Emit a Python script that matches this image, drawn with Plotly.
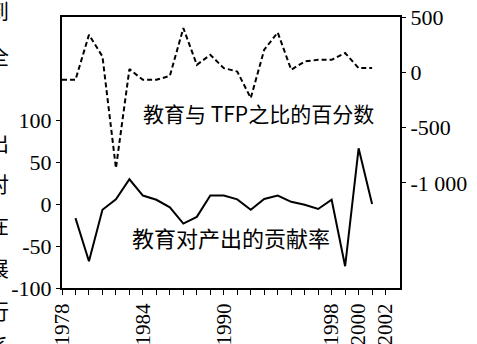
import plotly.graph_objects as go

years_solid = list(range(1979, 2002))
contrib = [-16.5, -68, -6.5, 6, 30, 10.5, 5.5, -3.5, -23, -15, 10.5, 10.5, 6, -6.5, 6.5,
           10.5, 3, -0.5, -5.5, 5.5, -74, 67, 0.5]

years_dash = list(range(1978, 2002))
ratio = [-68, -68, 339, 143, -867, 29, -68, -68, -32, 400, 68, 158, 38, 7, -233, 204,
         360, 23, 98, 113, 113, 174, 38, 38]

x_tickvals = list(range(1978, 2003))
x_labels = {1978: "1978", 1984: "1984", 1990: "1990", 1998: "1998", 2000: "2000", 2002: "2002"}
x_ticktext = [x_labels.get(y, "") for y in x_tickvals]

left_tickvals = [-100, -50, 0, 50, 100]
left_ticktext = ["-100", "-50", "0", "50", "100"]
right_tickvals = [500, 0, -500, -1000]
right_ticktext = ["500", "0", "-500", "-1 000"]

label_solid = "教育对产出的贡献率"
label_dash = "教育与 TFP之比的百分数"
margin_chars = ["到", "全", "出", "对", "在", "展", "行", "系"]
margin_char_y = [10, 55, 142, 183, 224, 267, 310, 345]

W, H = 477, 344
ml, mr, mt, mb = 61.5, 77, 17, 56
pw, ph = W - ml - mr, H - mt - mb

serif = "Liberation Serif, Times New Roman, serif"
cjk = "Noto Sans CJK SC, sans-serif"

fig = go.Figure()
fig.add_trace(go.Scatter(x=years_solid, y=contrib, mode="lines",
                         line=dict(color="black", width=2), yaxis="y", showlegend=False))
fig.add_trace(go.Scatter(x=years_dash, y=ratio, mode="lines",
                         line=dict(color="black", width=2, dash="5px,3px"), yaxis="y2",
                         showlegend=False))

annotations = [
    dict(text=label_dash, x=0.580, y=0.646, xref="paper", yref="paper", showarrow=False,
         xanchor="center", yanchor="middle",
         font=dict(family=cjk, size=21, color="black")),
    dict(text=label_solid, x=0.501, y=0.188, xref="paper", yref="paper", showarrow=False,
         xanchor="center", yanchor="middle",
         font=dict(family=cjk, size=22, color="black")),
]
for ch, py in zip(margin_chars, margin_char_y):
    annotations.append(dict(text=ch, x=(10.5 - ml) / pw, y=(H - mb - py) / ph,
                            xref="paper", yref="paper", xanchor="right", yanchor="middle",
                            showarrow=False, font=dict(family=cjk, size=21, color="black")))

fig.update_layout(
    template="none",
    width=W, height=H,
    margin=dict(l=ml, r=mr, t=mt, b=mb, pad=0, autoexpand=False),
    paper_bgcolor="white", plot_bgcolor="white",
    xaxis=dict(range=[1978, 2003.07], tickvals=x_tickvals, ticktext=x_ticktext,
               tickangle=-90, ticks="outside", ticklen=5, tickwidth=1.3, tickcolor="black",
               showline=True, linecolor="black", linewidth=2, mirror=True,
               showgrid=False, zeroline=False, automargin=False,
               tickfont=dict(family=serif, size=21, color="black")),
    yaxis=dict(range=[-100, 224], tickvals=left_tickvals, ticktext=left_ticktext,
               ticks="outside", ticklen=4, tickwidth=1.3, tickcolor="black",
               showline=True, linecolor="black", linewidth=2,
               showgrid=False, zeroline=False, automargin=False,
               tickfont=dict(family=serif, size=22, color="black")),
    yaxis2=dict(range=[-1950, 500], tickvals=right_tickvals, ticktext=right_ticktext,
                overlaying="y", side="right", anchor="x",
                ticks="outside", ticklen=4, tickwidth=1.3, tickcolor="black",
                showline=True, linecolor="black", linewidth=2,
                showgrid=False, zeroline=False, automargin=False,
                tickfont=dict(family=serif, size=22, color="black")),
    annotations=annotations,
)

fig.write_html("out.html", config={"displayModeBar": False},
               post_script="document.body.style.margin='0';")
